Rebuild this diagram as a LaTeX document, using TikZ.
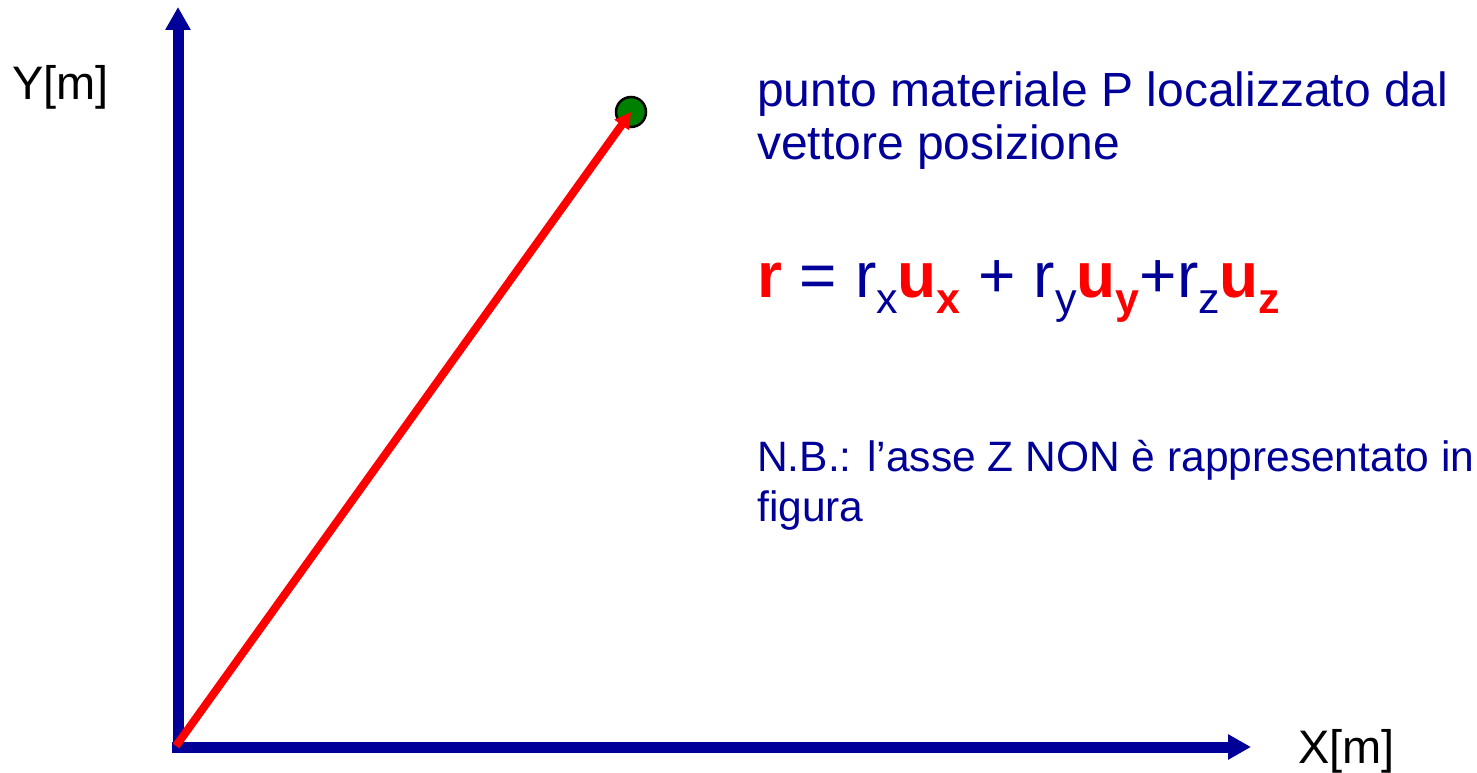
\documentclass[tikz,border=0pt]{standalone}
\usepackage{fontspec}
\setmainfont{Liberation Sans}
\usetikzlibrary{arrows.meta}
\definecolor{navy}{HTML}{000099}
\definecolor{ptgreen}{HTML}{008000}
\newcommand\mysub[1]{\raisebox{-16pt}{\fontsize{43}{45}\selectfont #1}}
\begin{document}
\begin{tikzpicture}[x=1pt,y=-1pt,
  axis/.style={draw=navy,line width=11pt,-{Triangle[width=24pt,length=23pt]}},
  vec/.style={draw=red,line width=8pt,-{Triangle[width=17pt,length=16pt]}},
  txt/.style={anchor=base west,inner sep=0pt,text=navy},
  lbl/.style={anchor=base west,inner sep=0pt,text=black,font=\fontsize{47}{50}\selectfont}]
\useasboundingbox (0,0) rectangle (1477,773);
\coordinate (ybot) at (178,753);
\coordinate (ytop) at (178,7);
\coordinate (xleft) at (172,747);
\coordinate (xright) at (1251,747);
\draw[axis] (ybot) -- (ytop);
\draw[axis] (xleft) -- (xright);
\node[circle, fill=ptgreen, draw=black, line width=2.5pt, minimum size=30pt, inner sep=0pt] (P) at (631,112) {};
\coordinate (start) at (176,746);
\draw[vec] (start) -- (P.center);
\node[lbl] (ylab) at (12,100) {Y[m]};
\node[lbl] (xlab) at (1298,763) {X[m]};
\node[txt,font=\fontsize{48}{50}\selectfont] (t1) at (757,107) {punto materiale P localizzato dal};
\node[txt,font=\fontsize{48}{50}\selectfont] (t2) at (757,160) {vettore posizione};
\node[txt,font=\fontsize{64}{70}\selectfont] (F) at (757,297) {\textcolor{red}{\bfseries r} = r\mysub{x}\textcolor{red}{\bfseries u\mysub{x}} + r\mysub{y}\textcolor{red}{\bfseries u\mysub{y}}+r\mysub{z}\textcolor{red}{\bfseries u\mysub{z}}};
\node[txt,font=\fontsize{42.5}{50}\selectfont] (n1) at (757,471) {N.B.: l’asse Z NON è rappresentato in};
\node[txt,font=\fontsize{42.5}{50}\selectfont] (n2) at (757,521) {figura};
\end{tikzpicture}
\end{document}
